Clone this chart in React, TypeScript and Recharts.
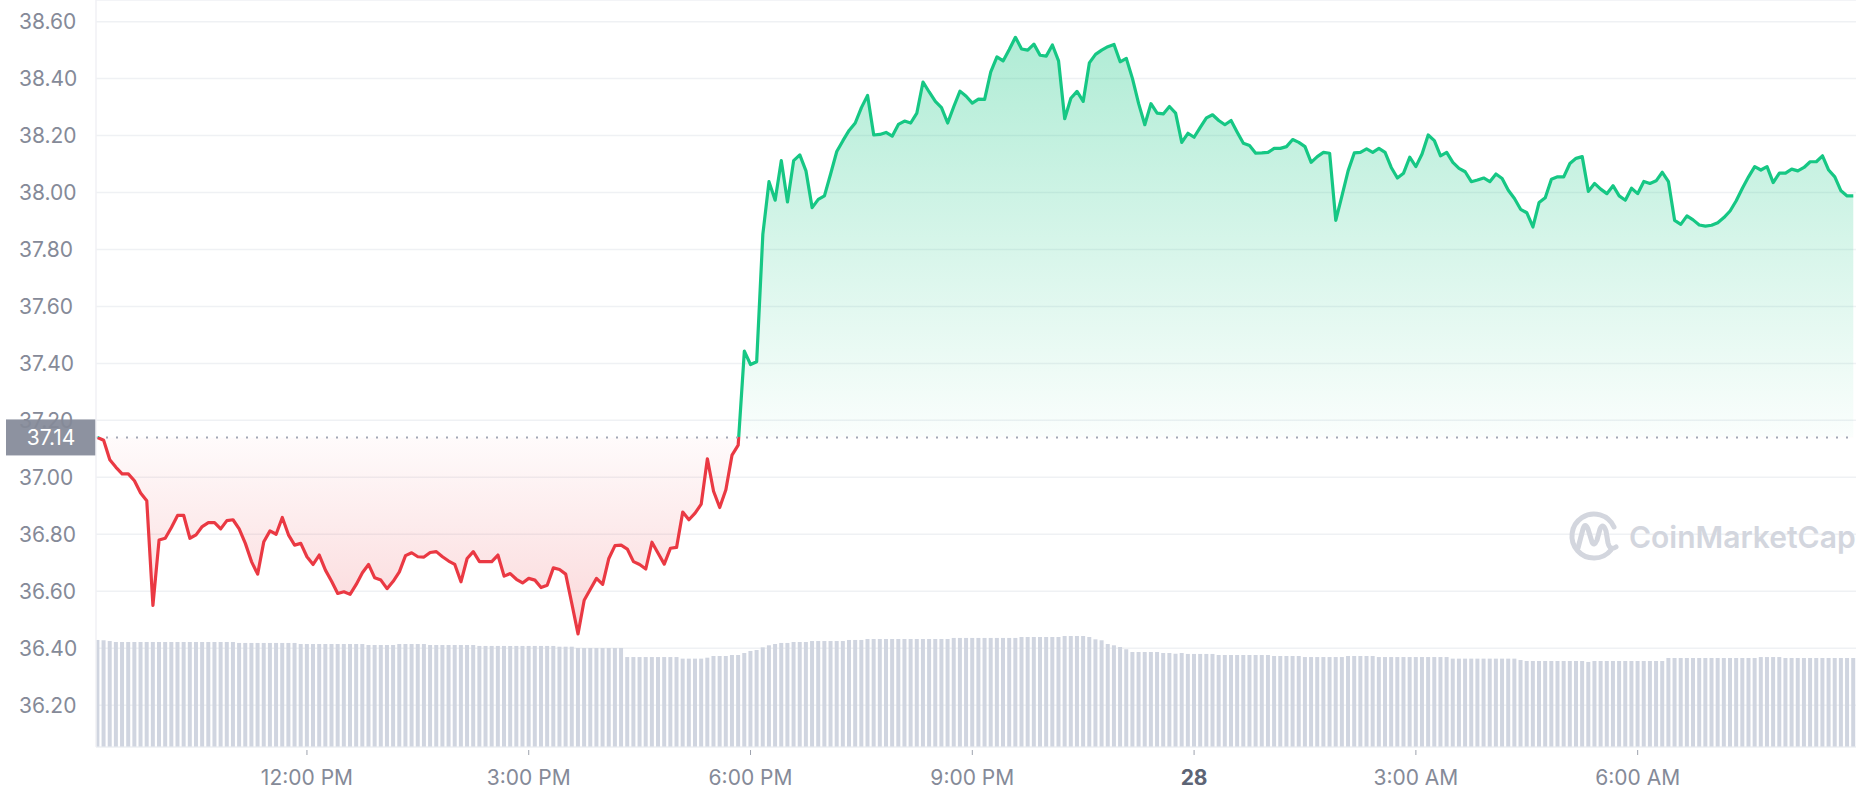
import React from "react";
import {
  ComposedChart,
  Area,
  Bar,
  XAxis,
  YAxis,
  CartesianGrid,
  ReferenceLine,
} from "recharts";

// ---- Data (5-minute samples, 9:10 AM on the 27th to 8:55 AM on the 28th) ----
const START_MIN = 550; // minutes after midnight of the 27th (9:10 AM)
const STEP_MIN = 5;

const prices: number[] = [
  37.14, 37.13, 37.062, 37.035, 37.012, 37.012, 36.988, 36.945, 36.918, 36.55,
  36.78, 36.786, 36.824, 36.866, 36.866, 36.786, 36.798, 36.827, 36.841, 36.841,
  36.819, 36.848, 36.851, 36.819, 36.768, 36.704, 36.66, 36.774, 36.812, 36.8,
  36.859, 36.798, 36.762, 36.768, 36.721, 36.694, 36.727, 36.674, 36.635, 36.592,
  36.598, 36.589, 36.624, 36.665, 36.694, 36.647, 36.639, 36.609, 36.635, 36.668,
  36.725, 36.735, 36.721, 36.72, 36.736, 36.739, 36.721, 36.706, 36.694, 36.633,
  36.715, 36.739, 36.704, 36.704, 36.704, 36.727, 36.653, 36.662, 36.642, 36.629,
  36.645, 36.639, 36.613, 36.621, 36.682, 36.676, 36.66, 36.556, 36.45, 36.568,
  36.607, 36.645, 36.624, 36.715, 36.76, 36.762, 36.748, 36.704, 36.694, 36.678,
  36.772, 36.733, 36.695, 36.751, 36.754, 36.878, 36.851, 36.874, 36.906, 37.065,
  36.951, 36.894, 36.956, 37.078, 37.113, 37.443, 37.396, 37.406, 37.853, 38.038,
  37.973, 38.112, 37.967, 38.112, 38.132, 38.076, 37.947, 37.976, 37.988, 38.065,
  38.144, 38.182, 38.218, 38.244, 38.298, 38.341, 38.202, 38.204, 38.211, 38.198,
  38.239, 38.251, 38.244, 38.279, 38.388, 38.353, 38.32, 38.298, 38.244, 38.302,
  38.356, 38.338, 38.314, 38.328, 38.327, 38.424, 38.476, 38.462, 38.502, 38.545,
  38.504, 38.5, 38.521, 38.482, 38.479, 38.518, 38.462, 38.259, 38.331, 38.355,
  38.32, 38.455, 38.485, 38.5, 38.512, 38.52, 38.459, 38.471, 38.4, 38.312,
  38.238, 38.312, 38.279, 38.276, 38.302, 38.279, 38.176, 38.208, 38.194, 38.229,
  38.262, 38.273, 38.253, 38.238, 38.253, 38.212, 38.173, 38.165, 38.138, 38.139,
  38.141, 38.155, 38.155, 38.161, 38.186, 38.176, 38.161, 38.106, 38.126, 38.141,
  38.138, 37.902, 37.988, 38.076, 38.139, 38.141, 38.153, 38.141, 38.155, 38.141,
  38.088, 38.051, 38.068, 38.124, 38.091, 38.135, 38.202, 38.182, 38.129, 38.141,
  38.106, 38.085, 38.073, 38.038, 38.044, 38.051, 38.038, 38.065, 38.049, 38.008,
  37.979, 37.941, 37.929, 37.879, 37.965, 37.982, 38.047, 38.055, 38.055, 38.102,
  38.12, 38.126, 38.004, 38.032, 38.012, 37.996, 38.024, 37.988, 37.973, 38.015,
  37.996, 38.039, 38.032, 38.041, 38.071, 38.038, 37.902, 37.888, 37.918, 37.904,
  37.886, 37.882, 37.885, 37.894, 37.912, 37.935, 37.971, 38.015, 38.055, 38.091,
  38.079, 38.091, 38.035, 38.068, 38.068, 38.082, 38.076, 38.088, 38.108, 38.108,
  38.129, 38.079, 38.055, 38.006, 37.988, 37.988,
];

// Volume (millions) per 5-minute bar
const volumes: number[] = [
  10.03, 10.0, 9.93,
  9.84, 9.84, 9.84, 9.84, 9.84, 9.84, 9.84, 9.84, 9.84, 9.84,
  9.84, 9.84, 9.84, 9.84, 9.84, 9.84, 9.84, 9.84, 9.84, 9.84,
  9.75, 9.75, 9.75, 9.75, 9.75, 9.75, 9.75, 9.75, 9.75, 9.75,
  9.65, 9.65, 9.65, 9.65, 9.65, 9.65, 9.65, 9.65, 9.65, 9.65, 9.65,
  9.56, 9.56, 9.56, 9.56, 9.56,
  9.65, 9.65, 9.65, 9.65, 9.65,
  9.56, 9.56, 9.56, 9.56, 9.56, 9.56, 9.56, 9.56,
  9.47, 9.47, 9.47, 9.47, 9.47, 9.47, 9.47, 9.47, 9.47, 9.47, 9.47, 9.47, 9.47,
  9.4, 9.4, 9.4,
  9.28, 9.28, 9.28, 9.28, 9.28, 9.28, 9.28, 9.28,
  8.43, 8.43, 8.43, 8.43, 8.43, 8.43, 8.43, 8.43, 8.43,
  8.28, 8.28, 8.28, 8.28,
  8.37,
  8.53, 8.53, 8.53,
  8.62, 8.62,
  8.81, 9.0, 9.09, 9.34, 9.53, 9.65,
  9.75, 9.75,
  9.84, 9.84, 9.84,
  9.93, 9.93, 9.93, 9.93, 9.93, 9.93,
  10.03, 10.03, 10.03,
  10.12, 10.12, 10.12, 10.12, 10.12, 10.12, 10.12, 10.12, 10.12, 10.12, 10.12, 10.12, 10.12, 10.12,
  10.22, 10.22, 10.22, 10.22, 10.22, 10.22, 10.22, 10.22, 10.22, 10.22, 10.22,
  10.31, 10.31, 10.31, 10.31, 10.31, 10.31, 10.31,
  10.4, 10.4, 10.4, 10.4,
  10.31, 10.09, 10.0, 9.65, 9.53, 9.37, 9.16,
  8.9, 8.9, 8.9, 8.9, 8.9,
  8.81, 8.81, 8.74, 8.81,
  8.72, 8.72, 8.72, 8.72, 8.72,
  8.62, 8.62, 8.62, 8.62, 8.62, 8.62, 8.62, 8.62, 8.62,
  8.53, 8.53, 8.53, 8.53, 8.53,
  8.43, 8.43, 8.43, 8.43, 8.43, 8.43, 8.43,
  8.53, 8.53, 8.53, 8.53, 8.53,
  8.43, 8.43, 8.43, 8.43, 8.43, 8.43, 8.43, 8.43, 8.43, 8.43, 8.43, 8.43,
  8.28, 8.28, 8.28, 8.28, 8.28, 8.28, 8.28, 8.28, 8.28, 8.28, 8.28,
  8.15,
  8.06, 8.06, 8.06, 8.06, 8.06, 8.06, 8.06, 8.06, 8.06, 8.06,
  7.97,
  8.06, 8.06, 8.06, 8.06, 8.06, 8.06, 8.06, 8.06, 8.06, 8.06, 8.06, 8.06,
  8.34, 8.34, 8.34, 8.34, 8.34, 8.34, 8.34, 8.34, 8.34, 8.34, 8.34, 8.34, 8.34, 8.34, 8.34,
  8.43, 8.43, 8.43, 8.43,
  8.34, 8.34, 8.34, 8.34, 8.34, 8.34, 8.34, 8.34, 8.34, 8.34, 8.34, 8.34,
];

const OPEN_PRICE = 37.14;

const xTickValues = [720, 900, 1080, 1260, 1440, 1620, 1800];
const xTickLabels = ["12:00 PM", "3:00 PM", "6:00 PM", "9:00 PM", "28", "3:00 AM", "6:00 AM"];
const yTickValues = [36.2, 36.4, 36.6, 36.8, 37.0, 37.2, 37.4, 37.6, 37.8, 38.0, 38.2, 38.4, 38.6];

const data = prices.map((p, i) => ({
  t: START_MIN + i * STEP_MIN,
  price: p,
  volume: volumes[i],
}));

const maxP = Math.max(...prices);
const minP = Math.min(...prices);
const splitOffset = (maxP - OPEN_PRICE) / (maxP - minP);

const GREEN = "#16c784";
const RED = "#ea3943";
const AXIS_TEXT = "#858a98";
const FONT = "Inter, 'Noto Sans', sans-serif";

const XTick = (props: any) => {
  const { x, y, payload } = props;
  const idx = xTickValues.indexOf(payload.value);
  const label = idx >= 0 ? xTickLabels[idx] : "";
  const isDay = label === "28";
  return (
    <g>
      <line x1={x} x2={x} y1={y + 3} y2={y + 8} stroke="#9ea3ae" strokeWidth={1} />
      <text
        x={x}
        y={y + 30}
        textAnchor="middle"
        dominantBaseline="central"
        fontFamily={FONT}
        fontSize={21}
        fontWeight={isDay ? 700 : 400}
        fill={isDay ? "#5d6475" : AXIS_TEXT}
      >
        {label}
      </text>
    </g>
  );
};

const YTick = (props: any) => {
  const { y, payload } = props;
  return (
    <text
      x={19}
      y={y}
      textAnchor="start"
      dominantBaseline="central"
      fontFamily={FONT}
      fontSize={21}
      fill={AXIS_TEXT}
    >
      {Number(payload.value).toFixed(2)}
    </text>
  );
};

const OpenLabel = (props: any) => {
  const vb = props.viewBox || {};
  const x = vb.x ?? 96;
  const y = vb.y ?? 0;
  return (
    <g>
      <rect x={x - 90} y={y - 18} width={90} height={36} fill="#8d92a0" />
      <text
        x={x - 45}
        y={y}
        textAnchor="middle"
        dominantBaseline="central"
        fontFamily={FONT}
        fontSize={21}
        fill="#ffffff"
      >
        {OPEN_PRICE.toFixed(2)}
      </text>
    </g>
  );
};

const Watermark = () => (
  <svg
    width={300}
    height={70}
    style={{ position: "absolute", left: 1560, top: 502, pointerEvents: "none" }}
  >
    <g fill="none" stroke="#d3d6de" strokeWidth={5} strokeLinecap="round" strokeLinejoin="round">
      <path d="M 51 48 A 22 22 0 1 1 54 25" />
      <path d="M 18 46 L 23 27 Q 25 20 28 27 L 32 40 Q 34 45 37 38 L 40 27 Q 43 20 46 29 L 48 41 Q 50 49 56 45" />
    </g>
    <text
      x={69}
      y={46}
      fontFamily={FONT}
      fontSize={30}
      fontWeight={600}
      fill="#d3d6de"
    >
      CoinMarketCap
    </text>
  </svg>
);

export default function App() {
  return (
    <div
      style={{
        position: "absolute",
        left: 0,
        top: 0,
        width: 1858,
        height: 800,
        background: "#ffffff",
        overflow: "hidden",
      }}
    >
      <ComposedChart
        width={1858}
        height={800}
        data={data}
        margin={{ top: 0, right: 2, bottom: 0, left: 0 }}
        style={{ fontFamily: FONT }}
      >
        <defs>
          <linearGradient id="strokeSplit" x1="0" y1="0" x2="0" y2="1">
            <stop offset={0} stopColor={GREEN} />
            <stop offset={splitOffset} stopColor={GREEN} />
            <stop offset={splitOffset} stopColor={RED} />
            <stop offset={1} stopColor={RED} />
          </linearGradient>
          <linearGradient id="fillSplit" x1="0" y1="0" x2="0" y2="1">
            <stop offset={0} stopColor={GREEN} stopOpacity={0.34} />
            <stop offset={splitOffset} stopColor={GREEN} stopOpacity={0.02} />
            <stop offset={splitOffset} stopColor={RED} stopOpacity={0.02} />
            <stop offset={1} stopColor={RED} stopOpacity={0.2} />
          </linearGradient>
        </defs>
        <CartesianGrid yAxisId="price" vertical={false} stroke="#eff1f4" strokeWidth={1.5} />
        <XAxis
          dataKey="t"
          type="number"
          domain={[548.8, 1977.2]}
          allowDataOverflow
          ticks={xTickValues}
          interval={0}
          tick={<XTick />}
          tickLine={false}
          tickSize={0}
          tickMargin={0}
          axisLine={{ stroke: "#eff1f4" }}
          height={53}
        />
        <YAxis
          yAxisId="price"
          type="number"
          domain={[36.053, 38.676]}
          allowDataOverflow
          ticks={yTickValues}
          interval={0}
          tick={<YTick />}
          tickLine={false}
          tickSize={0}
          tickMargin={0}
          axisLine={{ stroke: "#f0f1f4", strokeWidth: 1.5 }}
          width={96}
        />
        <YAxis yAxisId="vol" hide domain={[0, 70]} />
        <Bar
          yAxisId="vol"
          dataKey="volume"
          fill="#d0d5e0"
          barSize={4}
          isAnimationActive={false}
        />
        <Area
          yAxisId="price"
          type="linear"
          dataKey="price"
          baseValue={OPEN_PRICE}
          stroke="url(#strokeSplit)"
          strokeWidth={3.2}
          strokeLinejoin="round"
          fill="url(#fillSplit)"
          fillOpacity={1}
          dot={false}
          activeDot={false}
          isAnimationActive={false}
        />
        <ReferenceLine
          yAxisId="price"
          y={OPEN_PRICE}
          stroke="#a3a8b5"
          strokeWidth={2}
          strokeDasharray="2 8"
          label={<OpenLabel />}
        />
      </ComposedChart>
      <Watermark />
    </div>
  );
}
